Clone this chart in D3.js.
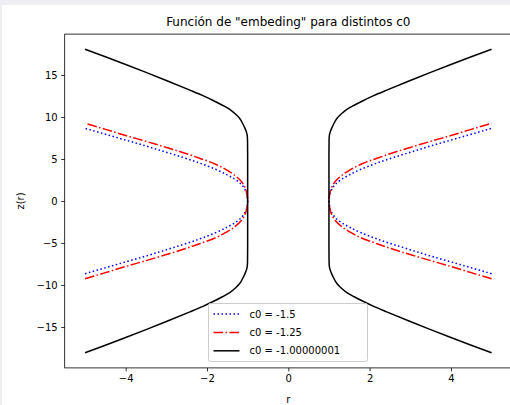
<!DOCTYPE html>
<html>
<head>
<meta charset="utf-8">
<script src="https://cdn.jsdelivr.net/npm/d3@7"></script>
<style>
  body { margin: 0; background: #eeeef3; }
  svg { display: block; }
  text { font-family: "DejaVu Sans", sans-serif; }
</style>
</head>
<body>
<svg id="chart" width="510" height="405"></svg>
<script>
// upper-right branch of each curve (r >= 1, z >= 0)
const rCurve = [1, 1.01, 1.03, 1.07, 1.15, 1.3, 1.5, 1.8, 2.2, 2.6, 3.0, 3.5, 4.0, 4.5, 5.0];
const zBlue = [0, 0.45, 0.95, 1.4, 1.95, 2.55, 3.1, 3.8, 4.55, 5.2, 5.8, 6.55, 7.25, 7.95, 8.65];
const zRed = [0, 0.55, 1.1, 1.65, 2.3, 3.0, 3.65, 4.4, 5.12, 5.78, 6.38, 7.1, 7.8, 8.53, 9.25];
const rBlack = [1, 1, 1.003, 1.01, 1.03, 1.07, 1.12, 1.19, 1.3, 1.44, 1.62, 1.85, 2.1, 2.42, 3.0, 3.5, 4.0, 4.5, 5.0];
const zBlack = [0, 5, 7.2, 7.8, 8.2, 8.7, 9.2, 9.8, 10.35, 10.9, 11.4, 11.97, 12.54, 13.2, 14.35, 15.31, 16.25, 17.17, 18.06];

const xTicks = [-4, -2, 0, 2, 4];
const yTicks = [-15, -10, -5, 0, 5, 10, 15];
const labels = ['c0 = -1.5', 'c0 = -1.25', 'c0 = -1.00000001'];

const series = [
  { label: labels[0], r: rCurve, z: zBlue, color: '#0000ff', dash: '1.5,2.5' },
  { label: labels[1], r: rCurve, z: zRed, color: '#ff0000', dash: '9.6,2.4,1.5,2.4' },
  { label: labels[2], r: rBlack, z: zBlack, color: '#000000', dash: null }
];

const svg = d3.select('#chart');
svg.append('rect').attr('x', 2).attr('y', 5).attr('width', 508).attr('height', 400).attr('fill', '#fff');

const margin = { left: 64.7, top: 34.1, right: 511.9, bottom: 367.9 };
const x = d3.scaleLinear().domain([-5.5, 5.5]).range([margin.left, margin.right]);
const y = d3.scaleLinear().domain([-19.87, 19.87]).range([margin.bottom, margin.top]);

// one side of a curve: bottom -> throat -> top
function side(s, sign) {
  const pts = [];
  for (let i = s.r.length - 1; i > 0; i--) pts.push([sign * s.r[i], -s.z[i]]);
  for (let i = 0; i < s.r.length; i++) pts.push([sign * s.r[i], s.z[i]]);
  return pts;
}

const line = d3.line()
  .x(d => x(d[0]))
  .y(d => y(d[1]))
  .curve(d3.curveMonotoneY);

const plot = svg.append('g');
series.forEach(s => {
  [-1, 1].forEach(sign => {
    plot.append('path')
      .datum(side(s, sign))
      .attr('d', line)
      .attr('fill', 'none')
      .attr('stroke', s.color)
      .attr('stroke-width', 1.5)
      .attr('stroke-dasharray', s.dash);
  });
});

// axes
const fmt = d => d < 0 ? '\u2212' + Math.abs(d) : d;
const xAxis = svg.append('g')
  .attr('transform', `translate(0,${margin.bottom})`)
  .call(d3.axisBottom(x).tickValues(xTicks).tickSize(3.5).tickPadding(3.5).tickFormat(fmt));
const yAxis = svg.append('g')
  .attr('transform', `translate(${margin.left},0)`)
  .call(d3.axisLeft(y).tickValues(yTicks).tickSize(3.5).tickPadding(3.5).tickFormat(fmt));
[xAxis, yAxis].forEach(a => {
  a.select('.domain').remove();
  a.selectAll('.tick line').attr('stroke', '#000').attr('stroke-width', 0.8);
  a.selectAll('.tick text').attr('font-size', 10).attr('fill', '#000')
    .attr('font-family', '"DejaVu Sans", sans-serif');
});

// spines
svg.append('rect')
  .attr('x', margin.left).attr('y', margin.top)
  .attr('width', margin.right - margin.left).attr('height', margin.bottom - margin.top)
  .attr('fill', 'none').attr('stroke', '#000').attr('stroke-width', 0.8);

// titles
svg.append('text')
  .attr('x', (margin.left + margin.right) / 2).attr('y', 26)
  .attr('text-anchor', 'middle').attr('font-size', 12)
  .text('Función de "embeding" para distintos c0');
svg.append('text')
  .attr('x', (margin.left + margin.right) / 2).attr('y', 403)
  .attr('text-anchor', 'middle').attr('font-size', 10)
  .text('r');
svg.append('text')
  .attr('transform', `translate(24,${(margin.top + margin.bottom) / 2}) rotate(-90)`)
  .attr('text-anchor', 'middle').attr('font-size', 10)
  .text('z(r)');

// legend
const leg = svg.append('g').attr('transform', 'translate(208.5,303.5)');
leg.append('rect')
  .attr('width', 159).attr('height', 58).attr('rx', 2)
  .attr('fill', '#fff').attr('fill-opacity', 0.8)
  .attr('stroke', '#cccccc').attr('stroke-width', 1);
series.forEach((s, i) => {
  const yy = 10.5 + i * 18.4;
  leg.append('line')
    .attr('x1', 5).attr('x2', 31).attr('y1', yy).attr('y2', yy)
    .attr('stroke', s.color).attr('stroke-width', 1.5)
    .attr('stroke-dasharray', s.dash);
  leg.append('text')
    .attr('x', 41).attr('y', yy + 3.6).attr('font-size', 10)
    .text(s.label);
});
</script>
</body>
</html>
